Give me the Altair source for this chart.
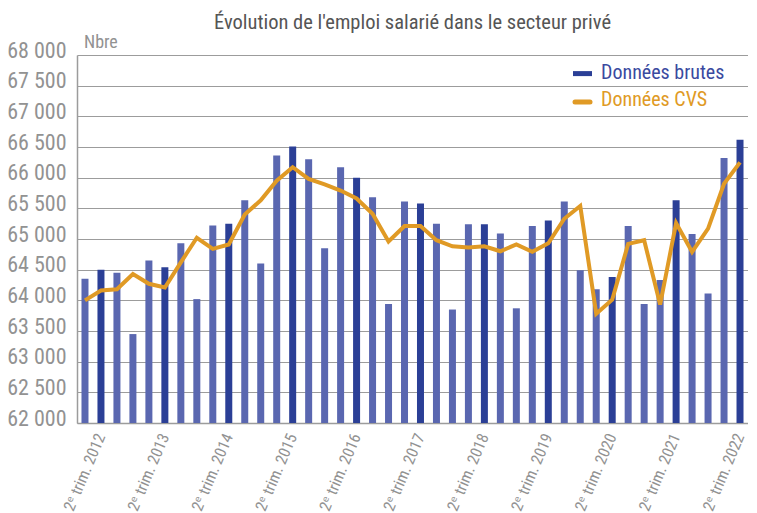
import altair as alt
import pandas as pd

periods = [f"{y}-T{q}" for y in range(2012, 2023) for q in range(1, 5)][:42]
trim = [int(p[-1]) for p in periods]

brutes = [64350, 64500, 64450, 63450, 64650, 64540, 64930, 64020, 65220, 65250,
          65630, 64600, 66360, 66510, 66300, 64850, 66170, 66000, 65680, 63940,
          65610, 65580, 65250, 63850, 65240, 65240, 65090, 63870, 65210, 65300,
          65610, 64490, 64180, 64380, 65210, 63940, 64330, 65630, 65080, 64110,
          66320, 66620]
cvs = [64000, 64160, 64180, 64430, 64270, 64210, 64620, 65020, 64840, 64910,
       65400, 65630, 65950, 66170, 65980, 65890, 65790, 65660, 65410, 64960,
       65210, 65210, 64980, 64880, 64860, 64880, 64800, 64910, 64790, 64930,
       65330, 65540, 63780, 64010, 64920, 64980, 63930, 65260, 64790, 65170,
       65900, 66250]
legend_labels = ["Données brutes", "Données CVS"]
title_text = "Évolution de l'emploi salarié dans le secteur privé"
unit_label = "Nbre"

df = pd.DataFrame({"periode": periods, "trim": trim, "brutes": brutes, "cvs": cvs})

FONT = "Liberation Sans Narrow, Roboto Condensed, DejaVu Sans Condensed, sans-serif"
DARK = "#2b3f96"
LIGHT = "#5a67b0"
ORANGE = "#e09a25"
GRAY = "#929292"
GRID = "#9c9c9c"

x_axis = alt.Axis(
    title=None, ticks=False, grid=False, domainColor=GRID, domainWidth=1.5,
    labelExpr="substring(datum.value, 5) == 'T2' ? '2ᵉ trim. ' + substring(datum.value, 0, 4) : ''",
    labelAngle=-67, labelFont=FONT, labelFontSize=16, labelColor=GRAY,
    labelOverlap=False, labelPadding=11,
)
y_axis = alt.Axis(
    title=None, ticks=False, values=list(range(62000, 68001, 500)),
    labelExpr="replace(format(datum.value, ','), ',', ' ')",
    labelFont=FONT, labelFontSize=22, labelColor=GRAY, labelPadding=11,
    labelOffset=-5, gridColor=GRID, gridWidth=1.2, domainColor=GRID, domainWidth=1.5,
)
x_enc = alt.X("periode:O", sort=None, axis=x_axis,
              scale=alt.Scale(paddingInner=0, paddingOuter=0))
y_scale = alt.Scale(domain=[62000, 68000], nice=False, zero=False)

base = alt.Chart(df)
bars = base.mark_bar(size=7).encode(
    x=x_enc,
    y=alt.Y("brutes:Q", scale=y_scale, axis=y_axis),
    y2=alt.datum(62000),
    color=alt.condition(alt.datum.trim == 2, alt.value(DARK), alt.value(LIGHT)),
)
line = base.mark_line(color=ORANGE, strokeWidth=4).encode(
    x=x_enc,
    y=alt.Y("cvs:Q", scale=y_scale, axis=y_axis),
)

leg1 = alt.Chart(pd.DataFrame({"label": [legend_labels[0]]}))
leg2 = alt.Chart(pd.DataFrame({"label": [legend_labels[1]]}))
sym1 = leg1.mark_rule(color=DARK, strokeWidth=5).encode(
    x=alt.value(496), x2=alt.value(515), y=alt.value(18.6))
txt1 = leg1.mark_text(align="left", baseline="middle", font=FONT, fontSize=20, color="#3a4aa0").encode(
    text="label", x=alt.value(524), y=alt.value(18))
sym2 = leg2.mark_rule(color=ORANGE, strokeWidth=5, strokeCap="round").encode(
    x=alt.value(498), x2=alt.value(513), y=alt.value(47))
txt2 = leg2.mark_text(align="left", baseline="middle", font=FONT, fontSize=20, color=ORANGE).encode(
    text="label", x=alt.value(524), y=alt.value(45))
nbre = leg1.mark_text(align="left", baseline="middle", font=FONT, fontSize=18, color=GRAY).encode(
    text=alt.value(unit_label), x=alt.value(7), y=alt.value(-12))

chart = alt.layer(bars, line, sym1, txt1, sym2, txt2, nbre).properties(
    width=671, height=368,
    title=alt.TitleParams(title_text, font=FONT, fontSize=20.5, fontWeight="normal",
                          color="#555555", anchor="middle", offset=1),
    autosize=alt.AutoSizeParams(type="none"),
    padding={"left": 69, "top": 47, "right": 0, "bottom": 90},
).configure_view(stroke=None)

chart.save("out.html", embed_options={"renderer": "svg", "actions": False})
